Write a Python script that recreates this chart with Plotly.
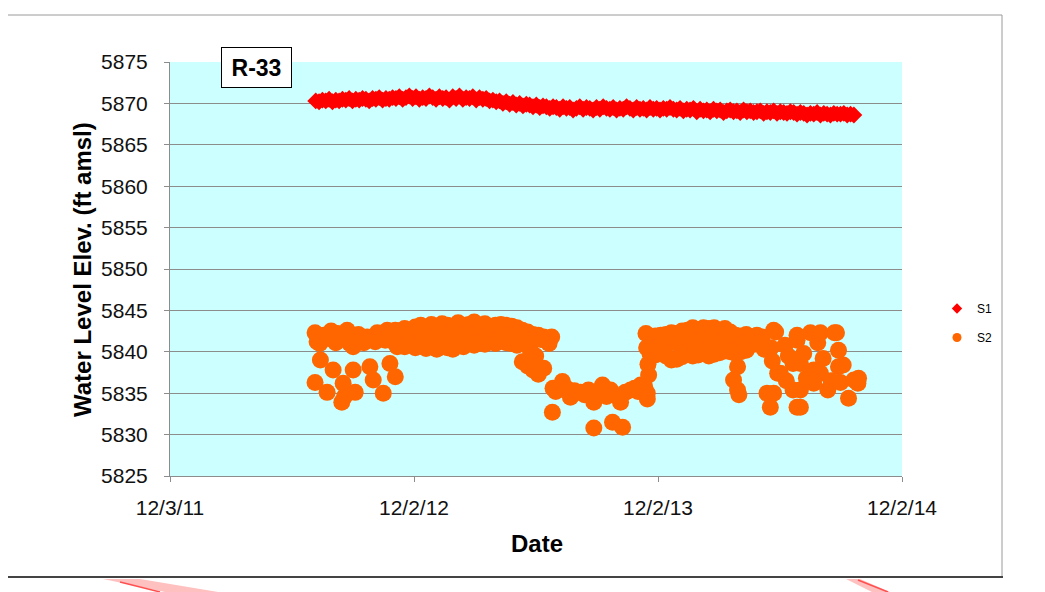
import pandas as pd
import plotly.graph_objects as go

# ---------------- data ----------------
x_tick_vals = ["2011-12-03", "2012-12-02", "2013-12-02", "2014-12-02"]
x_tick_text = ["12/3/11", "12/2/12", "12/2/13", "12/2/14"]
y_ticks = [5825, 5830, 5835, 5840, 5845, 5850, 5855, 5860, 5865, 5870, 5875]

# S1: transducer record, one reading every 5 days from 2012-07-08
S1_start = "2012-07-08"
S1_values = [
    # Jul - Oct 2012
    5870.3, 5870.2, 5870.4, 5870.3, 5870.5, 5870.2, 5870.4, 5870.3, 5870.5, 5870.4, 5870.6,
    5870.3, 5870.5, 5870.4, 5870.6, 5870.5, 5870.3, 5870.6, 5870.5, 5870.7, 5870.4, 5870.6,
    # Nov 2012 - Mar 2013
    5870.5, 5870.7, 5870.6, 5870.8, 5870.5, 5870.7, 5870.9, 5870.6, 5870.8, 5870.5,
    5870.7, 5870.6, 5870.9, 5870.7, 5870.5, 5870.8, 5870.6, 5870.7, 5870.4, 5870.8,
    5870.6, 5870.9, 5870.5, 5870.7, 5870.6, 5870.8, 5870.4, 5870.7, 5870.5, 5870.6,
    # Apr - Jul 2013
    5870.3, 5870.4, 5870.2, 5870.3, 5870.0, 5870.2, 5869.9, 5870.1, 5869.8, 5870.0,
    5869.7, 5869.9, 5869.8, 5869.6, 5869.8, 5869.5, 5869.7, 5869.6, 5869.4, 5869.6,
    # Jul 2013 - Jan 2014
    5869.5, 5869.3, 5869.6, 5869.4, 5869.5, 5869.2, 5869.4, 5869.6, 5869.3, 5869.5, 5869.4, 5869.2,
    5869.5, 5869.3, 5869.6, 5869.4, 5869.3, 5869.5, 5869.2, 5869.4, 5869.3, 5869.6, 5869.4, 5869.2,
    5869.5, 5869.3, 5869.4, 5869.2, 5869.5, 5869.3, 5869.4, 5869.2, 5869.4, 5869.3, 5869.5,
    # Jan - Jun 2014
    5869.3, 5869.2, 5869.4, 5869.1, 5869.3, 5869.2, 5869.4, 5869.0, 5869.3, 5869.1, 5869.2, 5869.0,
    5869.3, 5869.1, 5869.2, 5868.9, 5869.1, 5869.2, 5869.0, 5869.1, 5868.9, 5869.2, 5869.0, 5869.1,
    5868.9, 5869.0, 5869.1, 5868.8, 5869.0, 5868.9, 5869.1, 5868.8, 5869.0, 5868.9, 5868.8, 5869.0,
    # Jul - Sep 2014
    5868.9, 5868.7, 5868.9, 5868.8, 5868.6, 5868.8, 5868.7, 5868.9, 5868.6, 5868.8,
    5868.7, 5868.6, 5868.8, 5868.7, 5868.7, 5868.8, 5868.6, 5868.7, 5868.6,
]
S1_dates = pd.date_range(start=S1_start, periods=len(S1_values), freq="5D")

# S2: (date, water level) observations
S2_obs = [
    # Jul - Nov 2012
    ("2012-07-07", 5836.3), ("2012-07-07", 5842.3), ("2012-07-10", 5841.2), ("2012-07-15", 5839.0),
    ("2012-07-20", 5842.0), ("2012-07-25", 5835.1), ("2012-07-28", 5841.6), ("2012-08-03", 5842.0),
    ("2012-08-03", 5837.8), ("2012-08-10", 5842.2), ("2012-08-16", 5833.9), ("2012-08-18", 5836.2),
    ("2012-08-20", 5834.6), ("2012-08-24", 5842.6), ("2012-08-30", 5841.9), ("2012-09-02", 5837.8),
    ("2012-09-02", 5840.6), ("2012-09-05", 5835.1), ("2012-09-10", 5842.1), ("2012-09-15", 5841.5),
    ("2012-09-23", 5841.8), ("2012-09-27", 5838.2), ("2012-10-02", 5836.6), ("2012-10-08", 5842.3),
    ("2012-10-12", 5841.8), ("2012-10-17", 5835.0), ("2012-10-23", 5842.6), ("2012-10-27", 5838.6),
    ("2012-10-30", 5842.4), ("2012-11-01", 5841.2), ("2012-11-04", 5837.0), ("2012-11-07", 5840.6),
    ("2012-07-14", 5841.0), ("2012-08-07", 5841.1), ("2012-08-28", 5841.0), ("2012-09-18", 5841.1),
    ("2012-10-05", 5841.2), ("2012-10-20", 5841.4), ("2012-11-04", 5842.6), ("2012-07-31", 5842.5),
    # Nov 2012 - Jun 2013 (upper readings)
    ("2012-11-10", 5842.5), ("2012-11-18", 5842.8), ("2012-11-26", 5842.6), ("2012-12-04", 5843.0),
    ("2012-12-12", 5843.2), ("2012-12-20", 5842.9), ("2012-12-28", 5843.3), ("2013-01-05", 5843.1),
    ("2013-01-13", 5843.4), ("2013-01-21", 5843.2), ("2013-01-29", 5843.0), ("2013-02-06", 5843.5),
    ("2013-02-14", 5843.2), ("2013-02-22", 5843.3), ("2013-03-02", 5843.6), ("2013-03-10", 5843.1),
    ("2013-03-18", 5843.4), ("2013-03-26", 5843.0), ("2013-04-03", 5843.2), ("2013-04-11", 5843.3),
    ("2013-04-19", 5843.2), ("2013-04-27", 5843.1), ("2013-05-05", 5842.9), ("2013-05-13", 5842.6),
    ("2013-05-21", 5842.4), ("2013-05-29", 5842.1), ("2013-06-06", 5842.0), ("2013-06-14", 5841.8),
    ("2013-06-22", 5841.6),
    # Nov 2012 - Jun 2013 (middle readings)
    ("2012-11-14", 5841.8), ("2012-11-22", 5842.0), ("2012-11-30", 5841.9), ("2012-12-08", 5842.2),
    ("2012-12-16", 5842.0), ("2012-12-24", 5842.3), ("2013-01-01", 5842.1), ("2013-01-09", 5842.4),
    ("2013-01-17", 5842.0), ("2013-01-25", 5842.2), ("2013-02-02", 5842.5), ("2013-02-10", 5842.1),
    ("2013-02-18", 5842.3), ("2013-02-26", 5842.0), ("2013-03-06", 5842.2), ("2013-03-14", 5842.4),
    ("2013-03-22", 5842.1), ("2013-03-30", 5842.3), ("2013-04-07", 5842.0), ("2013-04-15", 5842.2),
    ("2013-04-23", 5841.9), ("2013-05-01", 5842.1), ("2013-05-09", 5841.8), ("2013-05-17", 5841.5),
    ("2013-05-25", 5840.2), ("2013-06-02", 5839.5), ("2013-06-10", 5841.5), ("2013-06-18", 5841.4),
    ("2013-06-26", 5841.8),
    # Nov 2012 - Jun 2013 (lower readings)
    ("2012-11-10", 5840.9), ("2012-11-18", 5840.6), ("2012-11-26", 5841.0), ("2012-12-04", 5840.5),
    ("2012-12-12", 5840.8), ("2012-12-20", 5840.4), ("2012-12-28", 5840.7), ("2013-01-05", 5840.3),
    ("2013-01-13", 5840.6), ("2013-01-21", 5840.5), ("2013-01-29", 5840.3), ("2013-02-06", 5840.7),
    ("2013-02-14", 5840.6), ("2013-02-22", 5841.0), ("2013-03-02", 5840.8), ("2013-03-10", 5841.1),
    ("2013-03-18", 5840.9), ("2013-03-26", 5841.2), ("2013-04-03", 5841.0), ("2013-04-11", 5841.3),
    ("2013-04-19", 5841.1), ("2013-04-27", 5841.0), ("2013-05-05", 5840.8), ("2013-05-13", 5838.8),
    ("2013-05-21", 5838.3), ("2013-05-29", 5837.8), ("2013-06-06", 5837.3), ("2013-06-14", 5838.0),
    ("2013-06-22", 5841.0),
    # Jun - Nov 2013
    ("2013-06-27", 5832.7), ("2013-06-28", 5835.6), ("2013-07-02", 5835.2), ("2013-07-12", 5836.4),
    ("2013-07-18", 5835.6), ("2013-07-24", 5834.5), ("2013-07-30", 5835.3), ("2013-08-08", 5835.1),
    ("2013-08-14", 5834.8), ("2013-08-20", 5835.4), ("2013-08-28", 5833.9), ("2013-08-28", 5830.8),
    ("2013-09-02", 5835.2), ("2013-09-10", 5836.0), ("2013-09-16", 5834.6), ("2013-09-22", 5835.4),
    ("2013-09-25", 5831.5), ("2013-09-30", 5834.7), ("2013-10-07", 5833.9), ("2013-10-10", 5830.9),
    ("2013-10-14", 5835.1), ("2013-10-22", 5835.4), ("2013-10-28", 5835.6), ("2013-11-02", 5835.2),
    ("2013-11-06", 5836.0), ("2013-11-12", 5835.8), ("2013-11-16", 5835.0), ("2013-11-16", 5834.3),
    ("2013-11-14", 5842.2), ("2013-11-15", 5840.5), ("2013-11-17", 5838.5), ("2013-11-18", 5837.2),
    # Nov 2013 - May 2014 (upper readings)
    ("2013-11-20", 5841.7), ("2013-11-28", 5841.9), ("2013-12-06", 5842.0), ("2013-12-14", 5842.1),
    ("2013-12-22", 5842.3), ("2013-12-30", 5842.2), ("2014-01-07", 5842.5), ("2014-01-15", 5842.6),
    ("2014-01-23", 5842.9), ("2014-01-31", 5842.7), ("2014-02-08", 5842.9), ("2014-02-16", 5842.8),
    ("2014-02-24", 5842.9), ("2014-03-04", 5842.6), ("2014-03-12", 5842.8), ("2014-03-20", 5842.4),
    ("2014-03-28", 5842.0), ("2014-04-05", 5841.9), ("2014-04-13", 5842.1), ("2014-04-21", 5841.8),
    ("2014-04-29", 5842.0), ("2014-05-07", 5841.8),
    # Nov 2013 - May 2014 (middle readings)
    ("2013-11-24", 5841.2), ("2013-12-02", 5840.9), ("2013-12-10", 5841.4), ("2013-12-18", 5841.0),
    ("2013-12-26", 5841.3), ("2014-01-03", 5840.8), ("2014-01-11", 5841.1), ("2014-01-19", 5841.5),
    ("2014-01-27", 5841.0), ("2014-02-04", 5841.3), ("2014-02-12", 5841.2), ("2014-02-20", 5841.4),
    ("2014-02-28", 5841.0), ("2014-03-08", 5841.2), ("2014-03-16", 5840.9), ("2014-03-24", 5841.1),
    ("2014-04-01", 5840.8), ("2014-04-09", 5841.0), ("2014-04-17", 5841.2), ("2014-04-25", 5840.9),
    ("2014-05-03", 5841.0),
    # Nov 2013 - May 2014 (lower readings)
    ("2013-11-20", 5839.8), ("2013-11-28", 5839.6), ("2013-12-06", 5839.9), ("2013-12-14", 5839.5),
    ("2013-12-22", 5839.0), ("2013-12-30", 5839.1), ("2014-01-07", 5839.4), ("2014-01-15", 5839.7),
    ("2014-01-23", 5839.5), ("2014-01-31", 5839.6), ("2014-02-08", 5839.8), ("2014-02-16", 5839.5),
    ("2014-02-24", 5839.7), ("2014-03-04", 5839.9), ("2014-03-12", 5840.1), ("2014-03-20", 5840.0),
    ("2014-03-28", 5839.8), ("2014-04-05", 5840.0), ("2014-04-13", 5840.2), ("2014-05-10", 5840.3),
    ("2014-03-25", 5836.6), ("2014-03-31", 5838.2), ("2014-03-31", 5835.4), ("2014-04-02", 5834.8),
    # May - Sep 2014
    ("2014-05-14", 5835.0), ("2014-05-19", 5833.3), ("2014-05-20", 5840.5), ("2014-05-22", 5838.9),
    ("2014-05-24", 5842.6), ("2014-05-24", 5835.0), ("2014-05-27", 5842.4), ("2014-05-30", 5837.4),
    ("2014-06-03", 5837.4), ("2014-06-10", 5840.8), ("2014-06-12", 5836.5), ("2014-06-15", 5839.5),
    ("2014-06-22", 5838.6), ("2014-06-22", 5835.4), ("2014-06-28", 5842.0), ("2014-06-28", 5841.4),
    ("2014-06-28", 5833.3), ("2014-07-03", 5835.4), ("2014-07-03", 5833.3), ("2014-07-03", 5838.6),
    ("2014-07-08", 5839.8), ("2014-07-12", 5836.8), ("2014-07-18", 5842.3), ("2014-07-23", 5837.8),
    ("2014-07-23", 5836.2), ("2014-07-29", 5841.1), ("2014-08-02", 5842.3), ("2014-08-02", 5837.4),
    ("2014-08-06", 5839.2), ("2014-08-13", 5835.4), ("2014-08-18", 5836.5), ("2014-08-23", 5842.3),
    ("2014-08-26", 5842.3), ("2014-08-29", 5840.2), ("2014-08-29", 5838.2), ("2014-09-01", 5836.3),
    ("2014-09-05", 5838.4), ("2014-09-13", 5834.4), ("2014-09-21", 5836.6), ("2014-09-27", 5836.2),
    ("2014-09-28", 5836.8),
]
S2_dates = [d for d, _ in S2_obs]
S2_values = [v for _, v in S2_obs]

# ---------------- figure ----------------
# the page adds an 8px body margin, so the figure is 8px smaller and offset
W, H = 1037, 584
L, T = 162, 54
PW, PH = 732, 414
R, B = W - L - PW, H - T - PH
OFF = 8


def px(x):  # screen pixel -> paper x
    return (x - OFF - L) / PW


def py(y):  # screen pixel -> paper y
    return (T + PH - (y - OFF)) / PH


FONT = "Liberation Sans"
RED = "#FF0000"
ORANGE = "#FF6600"

fig = go.Figure()
fig.add_trace(go.Scatter(
    x=S2_dates, y=S2_values, mode="markers", name="S2", showlegend=False,
    marker=dict(symbol="circle", size=17, color=ORANGE, line=dict(width=0)),
))
fig.add_trace(go.Scatter(
    x=S1_dates, y=S1_values, mode="markers", name="S1", showlegend=False,
    marker=dict(symbol="diamond", size=13, color=RED, line=dict(width=0)),
))
# legend entries
fig.add_trace(go.Scatter(x=[None], y=[None], mode="markers", name="S1", legendgroup="a",
                         marker=dict(symbol="diamond", size=8, color=RED)))
fig.add_trace(go.Scatter(x=[None], y=[None], mode="markers", name="S2", legendgroup="b",
                         marker=dict(symbol="circle", size=9, color=ORANGE)))

shapes = [
    dict(type="line", xref="paper", yref="paper", x0=px(8), x1=px(1002), y0=py(15), y1=py(15),
         line=dict(color="#9a9a9a", width=1)),
    dict(type="line", xref="paper", yref="paper", x0=px(1002), x1=px(1002), y0=py(15), y1=py(577),
         line=dict(color="#9a9a9a", width=1)),
    dict(type="line", xref="paper", yref="paper", x0=px(8), x1=px(1003), y0=py(577), y1=py(577),
         line=dict(color="#444444", width=2)),
    # decorative pink stripes below the frame
    dict(type="path", xref="paper", yref="paper",
         path=f"M {px(103)} {py(579)} L {px(140)} {py(579)} L {px(218)} {py(592)} L {px(165)} {py(592)} Z",
         fillcolor="#FFC0C0", line=dict(width=0), layer="below"),
    dict(type="line", xref="paper", yref="paper", x0=px(120), y0=py(582), x1=px(160), y1=py(592),
         line=dict(color="#FF5050", width=1.5)),
    dict(type="path", xref="paper", yref="paper",
         path=f"M {px(846)} {py(579)} L {px(860)} {py(579)} L {px(890)} {py(592)} L {px(872)} {py(592)} Z",
         fillcolor="#FFC0C0", line=dict(width=0), layer="below"),
    dict(type="line", xref="paper", yref="paper", x0=px(858), y0=py(580), x1=px(888), y1=py(592),
         line=dict(color="#FF5050", width=1.5)),
]

annotations = [
    dict(text="<b>R-33</b>", xref="paper", yref="paper", x=px(256.5), y=py(67.5),
         xanchor="center", yanchor="middle", showarrow=False,
         font=dict(family=FONT, size=23, color="#000"),
         bgcolor="#FFFFFF", bordercolor="#000000", borderwidth=1, borderpad=0,
         width=69, height=39, align="center", valign="middle"),
    dict(text="<b>Water Level Elev. (ft amsl)</b>", xref="paper", yref="paper",
         x=px(82), y=py(270), xanchor="center", yanchor="middle", textangle=-90,
         showarrow=False, font=dict(family=FONT, size=24, color="#000")),
    dict(text="<b>Date</b>", xref="paper", yref="paper", x=px(537), y=py(543),
         xanchor="center", yanchor="middle", showarrow=False,
         font=dict(family=FONT, size=24, color="#000")),
]

fig.update_layout(
    width=W, height=H,
    margin=dict(l=L, r=R, t=T, b=B),
    paper_bgcolor="#FFFFFF",
    plot_bgcolor="#CCFFFF",
    font=dict(family=FONT, color="#000"),
    shapes=shapes,
    annotations=annotations,
    legend=dict(x=px(937), y=py(294), xanchor="left", yanchor="top",
                font=dict(family=FONT, size=12, color="#000"),
                bgcolor="rgba(0,0,0,0)", traceorder="grouped", tracegroupgap=10,
                itemwidth=30),
    xaxis=dict(type="date", range=["2011-12-03", "2014-12-02"],
               tickmode="array", tickvals=x_tick_vals, ticktext=x_tick_text,
               showgrid=False, zeroline=False, showline=True, linecolor="#8c8c8c", linewidth=1,
               ticks="outside", ticklen=5, tickcolor="#8c8c8c", ticklabelstandoff=8,
               tickfont=dict(family=FONT, size=21, color="#111")),
    yaxis=dict(range=[5825, 5875], tickmode="array", tickvals=y_ticks,
               showgrid=True, gridcolor="#8c8c8c", gridwidth=1, zeroline=False,
               showline=True, linecolor="#8c8c8c", linewidth=1,
               ticks="outside", ticklen=5, tickcolor="#8c8c8c", ticklabelstandoff=12,
               tickfont=dict(family=FONT, size=21, color="#111")),
)

fig.write_html("out.html")
